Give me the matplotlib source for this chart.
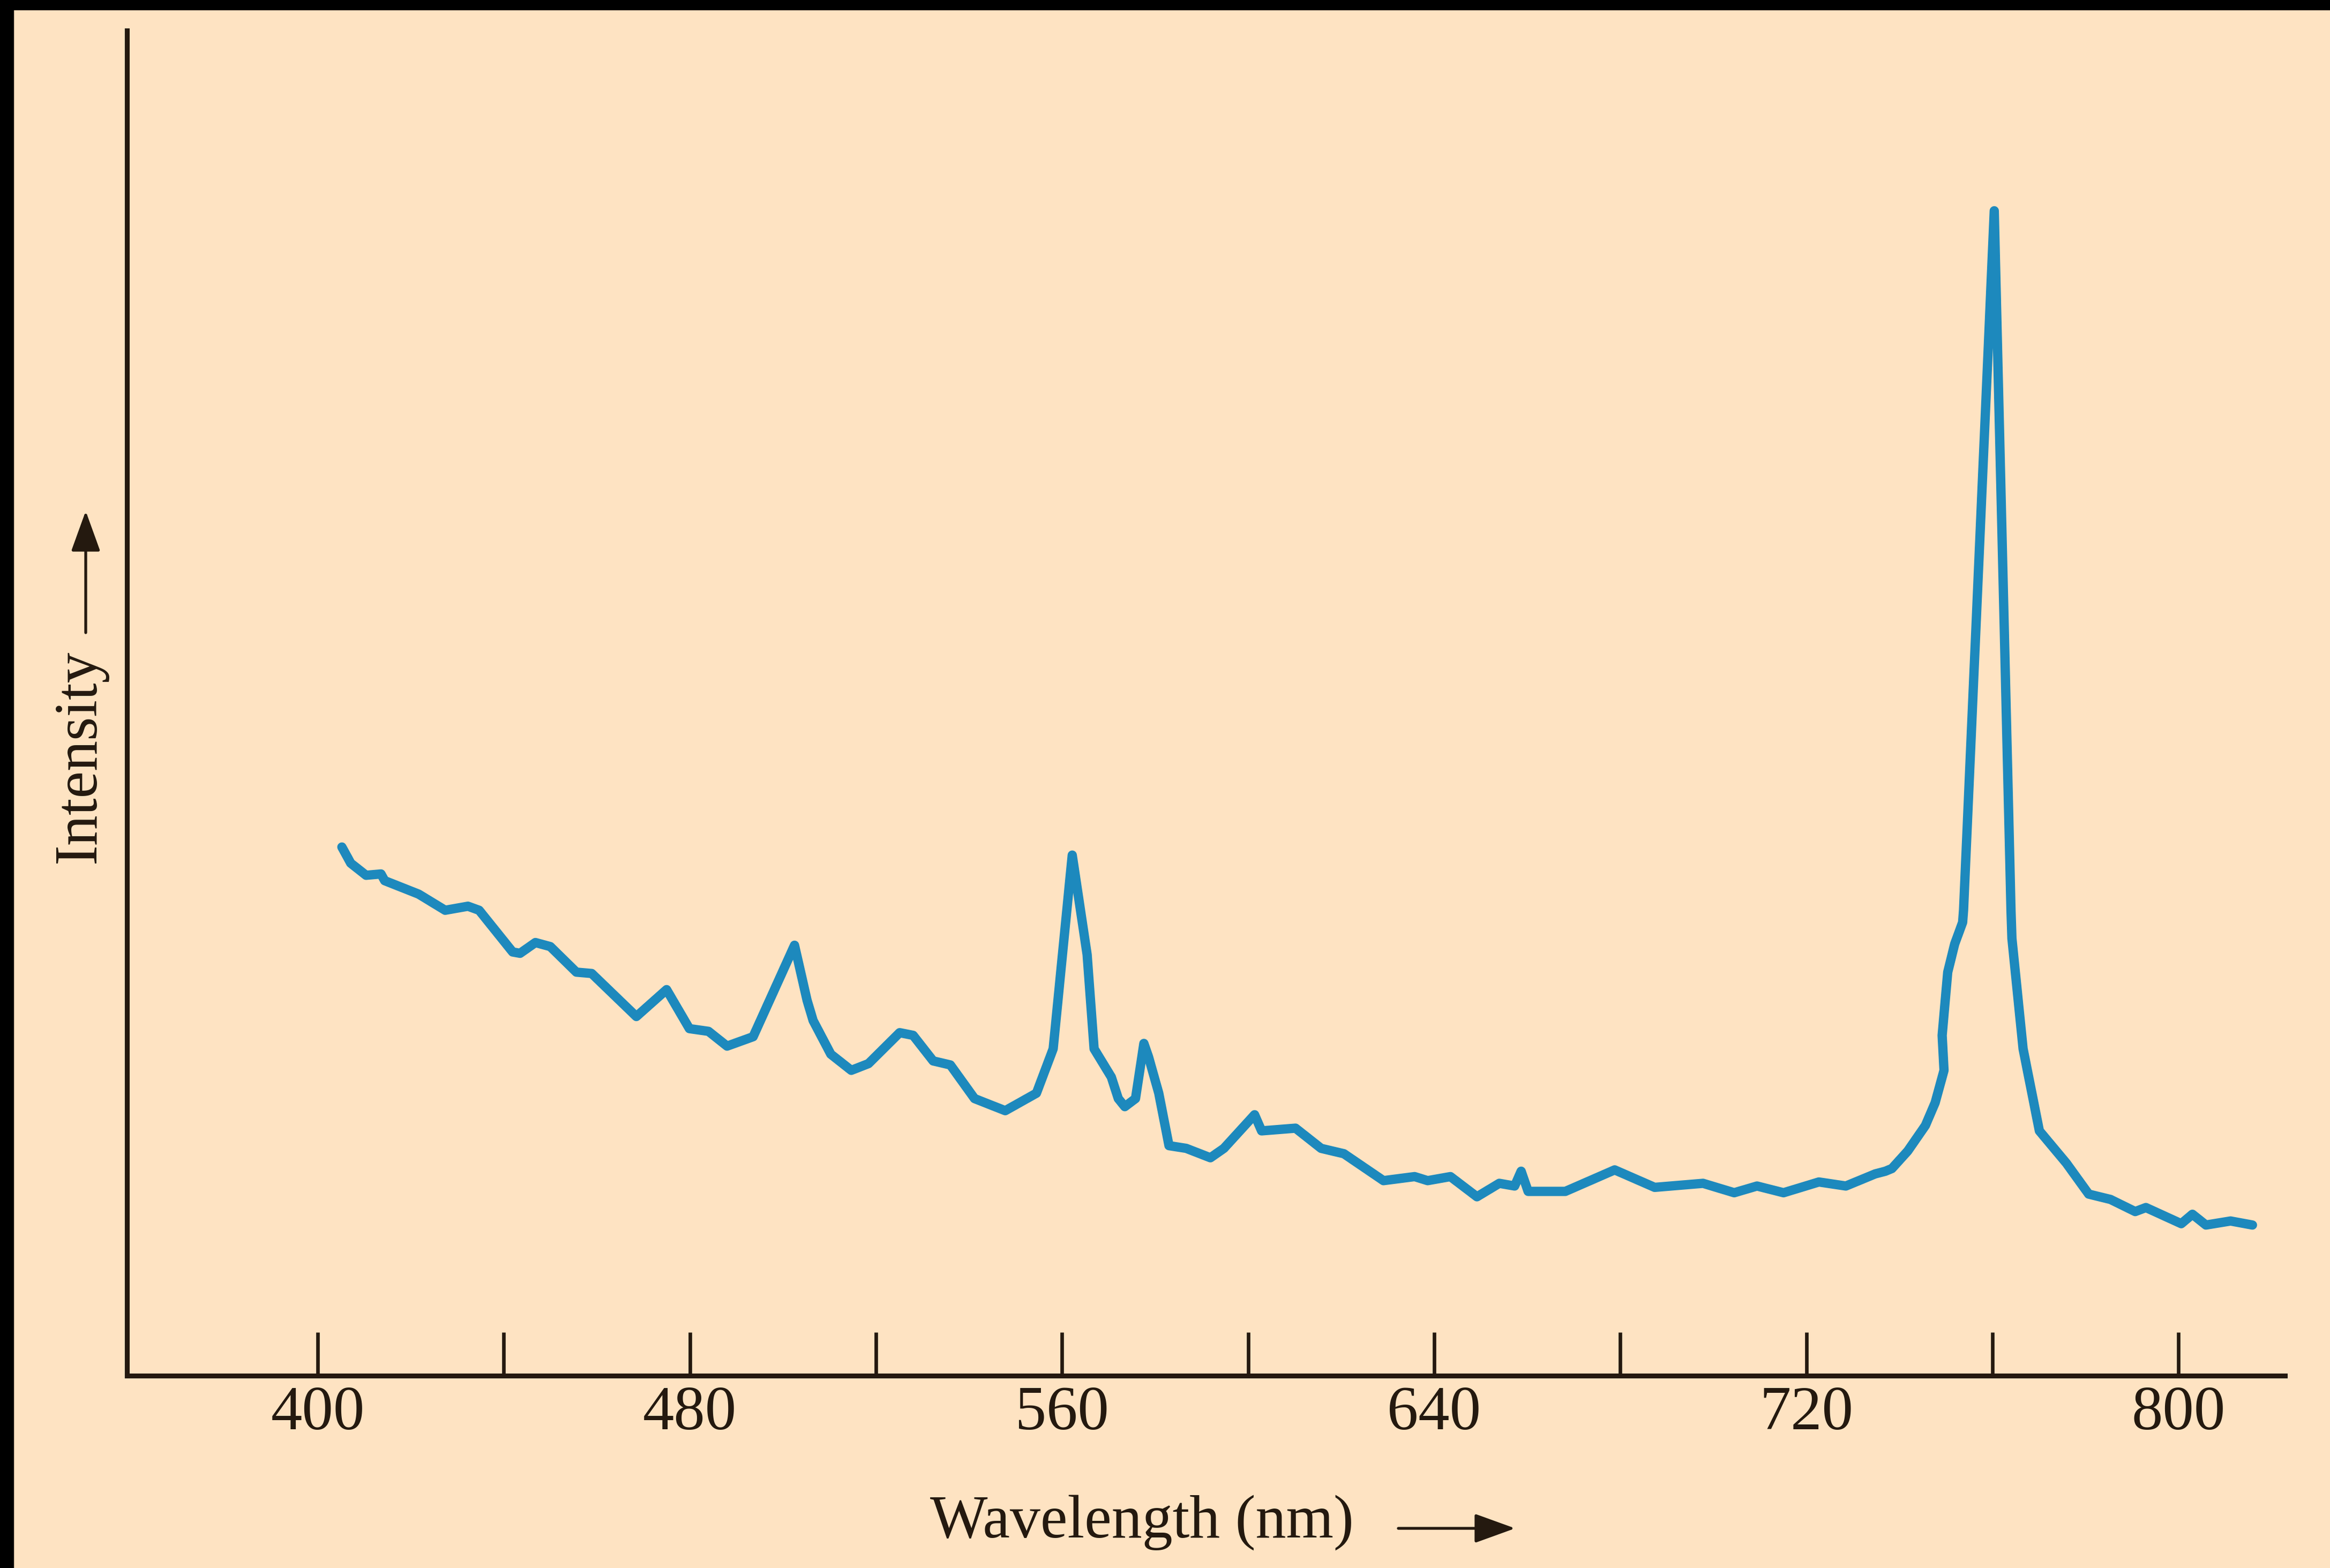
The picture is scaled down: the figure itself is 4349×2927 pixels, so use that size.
import matplotlib
matplotlib.use("Agg")
import matplotlib.pyplot as plt
from matplotlib.patches import Rectangle, FancyArrowPatch

# emission spectrum, intensity in arbitrary units (0 = axis, 100 = top of frame)
wavelength_nm = [
    405.2, 407.1, 410.4, 413.6, 414.4, 421.7, 427.4, 432.3, 434.7, 441.9,
    443.5, 446.8, 450.0, 455.6, 458.9, 468.5, 475.0, 479.9, 484.0, 488.0,
    493.6, 502.5, 505.2, 506.5, 510.3, 514.7, 518.4, 525.1, 528.0, 532.3,
    536.0, 541.2, 547.8, 554.5, 558.1, 562.2, 565.4, 566.9, 570.6, 572.1,
    573.5, 575.8, 577.6, 578.6, 580.8, 583.0, 586.7, 591.9, 594.8, 601.4,
    602.9, 610.2, 615.7, 620.6, 629.1, 635.8, 638.6, 643.5, 649.2, 654.0,
    657.3, 658.7, 660.2, 668.2, 678.8, 687.4, 697.8, 704.5, 709.4, 715.1,
    722.7, 728.5, 734.8, 737.0, 738.4, 741.8, 745.6, 747.7, 749.6, 749.2,
    750.4, 751.9, 753.6, 753.8, 760.4, 764.0, 764.2, 766.6, 770.1, 775.9,
    780.7, 785.4, 790.7, 793.0, 800.6, 803.0, 805.9, 811.2, 815.9,
]
intensity = [
    39.3, 38.1, 37.2, 37.3, 36.8, 35.8, 34.6, 34.9, 34.6, 31.5,
    31.4, 32.2, 31.9, 30.0, 29.9, 26.7, 28.7, 25.8, 25.6, 24.5,
    25.2, 32.0, 27.9, 26.4, 23.9, 22.7, 23.2, 25.5, 25.3, 23.4,
    23.1, 20.6, 19.7, 21.0, 24.3, 38.7, 31.3, 24.3, 22.2, 20.6,
    20.0, 20.6, 24.7, 23.7, 21.0, 17.1, 16.9, 16.2, 16.9, 19.4,
    18.2, 18.4, 16.9, 16.5, 14.5, 14.8, 14.5, 14.8, 13.3, 14.3,
    14.1, 15.2, 13.7, 13.7, 15.3, 14.0, 14.3, 13.6, 14.1, 13.6,
    14.4, 14.1, 15.0, 15.2, 15.4, 16.7, 18.6, 20.3, 22.7, 25.3,
    30.0, 32.1, 33.7, 34.6, 86.6, 34.6, 32.5, 24.3, 18.2, 15.8,
    13.5, 13.1, 12.2, 12.5, 11.3, 12.0, 11.2, 11.5, 11.2,
]

tick_nm = [400, 440, 480, 520, 560, 600, 640, 680, 720, 760, 800]
labelled_nm = [400, 480, 560, 640, 720, 800]
x_range = (359.0, 822.9)
y_range = (0, 100)

PAPER = "#fee3c2"
INK = "#24190f"
TRACE = "#1d89bd"

plt.rcParams["font.family"] = ["Liberation Serif", "DejaVu Serif"]

W, H, DPI = 4349, 2927, 100
fig = plt.figure(figsize=(W / DPI, H / DPI), dpi=DPI, facecolor=PAPER)

# dark strips along the top and left edge
fig.add_artist(Rectangle((0, 1 - 18 / H), 1, 18 / H, transform=fig.transFigure,
                         color="black", zorder=10))
fig.add_artist(Rectangle((0, 0), 25 / W, 1, transform=fig.transFigure,
                         color="black", zorder=10))

ax = fig.add_axes([237 / W, 1 - 2568 / H, (4265 - 237) / W, (2568 - 57) / H])
ax.set_facecolor(PAPER)

ax.plot(wavelength_nm, intensity, color=TRACE, lw=12.5,
        solid_joinstyle="round", solid_capstyle="round")

ax.set_xlim(*x_range)
ax.set_ylim(*y_range)

for side in ("top", "right"):
    ax.spines[side].set_visible(False)
for side in ("left", "bottom"):
    ax.spines[side].set_color(INK)
    ax.spines[side].set_linewidth(6.5)
    ax.spines[side].set_capstyle("projecting")

ax.set_yticks([])
ax.set_xticks(labelled_nm, [str(v) for v in labelled_nm])
ax.set_xticks([v for v in tick_nm if v not in labelled_nm], minor=True)
ax.tick_params(axis="x", which="both", direction="in", length=58, width=4.8,
               color=INK, labelcolor=INK, labelsize=84, pad=14)

# axis captions with their arrows
fig.text(2131 / W, 1 - 2870 / H, "Wavelength (nm)", ha="center", va="baseline",
         fontsize=82, color=INK)
fig.text(177 / W, 1 - 1412 / H, "Intensity", rotation=90, rotation_mode="anchor",
         ha="center", va="baseline", fontsize=82, color=INK)

arrow_style = "-|>,head_length=4.7,head_width=1.7"
fig.add_artist(FancyArrowPatch((2610 / W, 1 - 2853 / H), (2828 / W, 1 - 2853 / H),
                               transform=fig.transFigure, arrowstyle=arrow_style,
                               mutation_scale=10, lw=3.8, color=INK,
                               shrinkA=0, shrinkB=0))
fig.add_artist(FancyArrowPatch((160 / W, 1 - 1181 / H), (160 / W, 1 - 954 / H),
                               transform=fig.transFigure, arrowstyle=arrow_style,
                               mutation_scale=10, lw=3.8, color=INK,
                               shrinkA=0, shrinkB=0))

fig.savefig("out.png", dpi=DPI, facecolor=PAPER)
